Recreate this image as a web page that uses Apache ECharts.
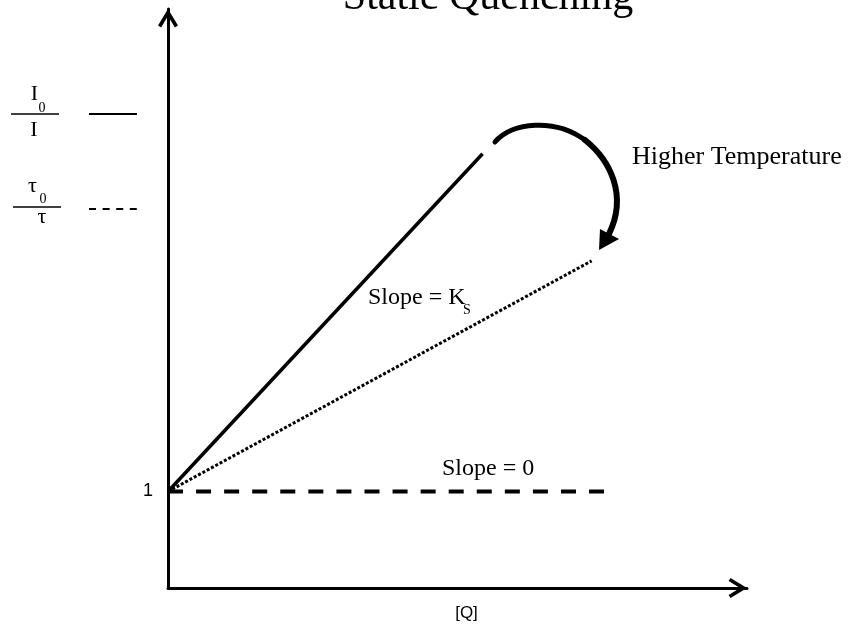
<!DOCTYPE html>
<html>
<head>
<meta charset="utf-8">
<script src="https://cdn.jsdelivr.net/npm/echarts/dist/echarts.min.js"></script>
<style>
html, body { margin: 0; padding: 0; background: #fff; }
#chart { width: 852px; height: 631px; }
</style>
</head>
<body>
<div id="chart"></div>
<script>
// values ([Q] on x, ratio on y)
const qSolid = [0, 3.26]
const ratioSolid = [1, 4.5]
const qDotted = [0, 4.39]
const ratioDotted = [1, 3.39]
const qFlat = [0, 4.52]
const ratioFlat = [1, 1]
const yTickLabels = [1]

const serif = "'Liberation Serif', 'Times New Roman', serif"
const sans = "'Liberation Sans', Arial, sans-serif"
const chevron = 'path://M10 0 L20 16.5 L16.9 18.4 L10 6.95 L3.1 18.4 L0 16.5 Z'

function pairs(xs, ys) {
    return xs.map((x, i) => [x, ys[i]])
}

function txt(text, x, y, size, align) {
    return {
        type: 'text', x: x, y: y, silent: true,
        style: { text: text, fill: '#000', font: size + 'px ' + serif, align: align || 'center', verticalAlign: 'middle' }
    }
}
function seg(x1, y1, x2, y2, width, dash) {
    return {
        type: 'line', silent: true,
        shape: { x1: x1, y1: y1, x2: x2, y2: y2 },
        style: { stroke: '#000', lineWidth: width, lineDash: dash || null }
    }
}
function curve(x1, y1, cpx1, cpy1, cpx2, cpy2, x2, y2, w) {
    return {
        type: 'bezierCurve', silent: true,
        shape: { x1: x1, y1: y1, cpx1: cpx1, cpy1: cpy1, cpx2: cpx2, cpy2: cpy2, x2: x2, y2: y2 },
        style: { stroke: '#000', fill: null, lineWidth: w, lineCap: 'round' }
    }
}

let myChart = echarts.init(document.getElementById('chart'))
let axisLine = {
    show: true,
    onZero: false,
    symbol: ['none', chevron],
    symbolSize: [20, 18.4],
    symbolOffset: [0, -9.2],
    lineStyle: { color: '#000', width: 3 }
}
let option = {
    animation: false,
    backgroundColor: '#fff',
    grid: { left: 168, right: 105, top: 9, bottom: 43 },
    xAxis: {
        type: 'value',
        min: 0,
        max: 6,
        axisLine: axisLine,
        axisTick: { show: false },
        axisLabel: { show: false },
        splitLine: { show: false },
        name: '[Q]',
        nameLocation: 'middle',
        nameGap: 17,
        nameTextStyle: { color: '#000', fontSize: 17, fontFamily: sans, padding: [0, 0, 0, 18] }
    },
    yAxis: {
        type: 'value',
        min: 0,
        max: 6,
        interval: 1,
        axisLine: axisLine,
        axisTick: { show: false },
        splitLine: { show: false },
        axisLabel: {
            margin: 15,
            color: '#000',
            fontSize: 18,
            fontFamily: sans,
            formatter: v => yTickLabels.includes(v) ? String(v) : ''
        }
    },
    series: [
        {
            type: 'line', symbol: 'none', silent: true,
            data: pairs(qSolid, ratioSolid),
            lineStyle: { color: '#000', width: 3.5 }
        },
        {
            type: 'line', symbol: 'none', silent: true,
            data: pairs(qDotted, ratioDotted),
            lineStyle: { color: '#000', width: 3, type: [3, 1.9] }
        },
        {
            type: 'line', symbol: 'none', silent: true,
            data: pairs(qFlat, ratioFlat),
            lineStyle: { color: '#000', width: 4, type: [15, 13.07] }
        }
    ],
    graphic: [
        txt('Static Quenching', 488, -2, 42),
        // legend: I0 / I  ——
        txt('I', 34.5, 94.5, 22),
        txt('0', 42, 108, 14),
        seg(11, 114, 59, 114, 1.5),
        txt('I', 34, 130, 22),
        seg(89, 114, 137, 114, 2),
        // legend: tau0 / tau  - - - -
        txt('τ', 32.5, 186, 22),
        txt('0', 43, 199, 14),
        seg(13, 207, 61, 207, 1.5),
        txt('τ', 42, 217, 22),
        seg(89, 209, 137, 209, 2, [7, 6.6]),
        // annotations
        txt('Higher Temperature', 632, 157, 26, 'left'),
        txt('Slope = K', 368, 298, 24, 'left'),
        txt('S', 463, 310, 14, 'left'),
        txt('Slope = 0', 442, 469, 24, 'left'),
        curve(495, 142, 512, 122, 555, 118, 585, 140, 5),
        curve(585, 140, 610, 160, 628, 195, 609, 234, 6),
        {
            type: 'polygon', silent: true,
            shape: { points: [[599, 250], [600, 229], [619, 239]] },
            style: { fill: '#000' }
        }
    ]
}
myChart.setOption(option)
window.addEventListener('resize', function () {
    myChart.resize()
})
</script>
</body>
</html>
